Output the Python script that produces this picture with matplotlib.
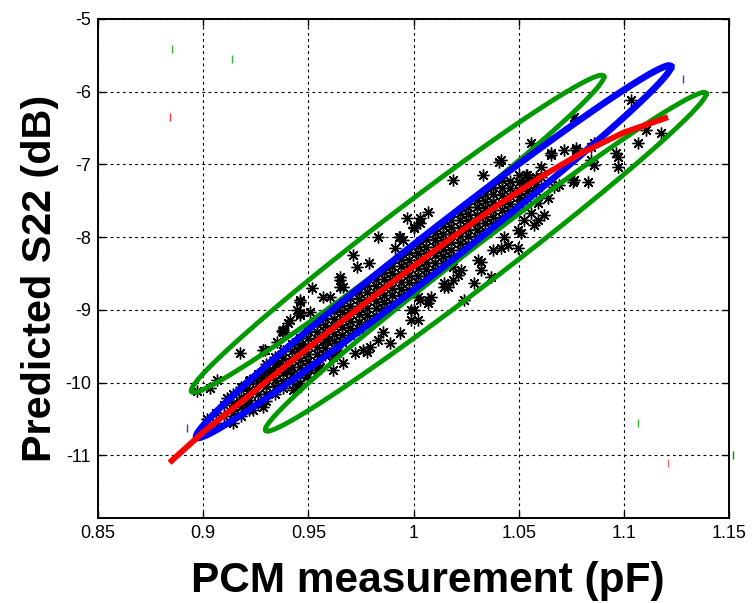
import numpy as np
import matplotlib
matplotlib.use("Agg")
import matplotlib.pyplot as plt
from matplotlib import rcParams

rcParams.update({
    "font.family": ["Liberation Sans", "DejaVu Sans"],
    "axes.unicode_minus": False,
})

# ── data ──────────────────────────────────────────────────
# scattered measurements outside the dense core
out_pcm = [0.9176, 0.9067, 0.9033, 0.8971, 0.9114, 0.9286, 0.9381, 0.9352, 0.9238, 0.9286,
           0.9214, 0.9190, 0.9319, 0.9429, 0.9462, 0.9495, 0.9271, 0.9224, 0.9333, 0.9400,
           0.9462, 0.9295, 0.9376, 0.9405, 0.9462, 0.9462, 0.9448, 0.9510, 0.9448, 0.9543,
           0.9619, 0.9667, 0.9638, 0.9590, 0.9357, 0.9271, 0.9833, 0.9714, 0.9733, 0.9652,
           0.9652, 0.9519, 0.9462, 0.9571, 0.9605, 0.9414, 0.9381, 0.9462, 0.9938, 0.9890,
           0.9829, 0.9795, 0.9724, 0.9781, 0.9986, 1.0000, 1.0033, 0.9938, 1.0000, 0.9786,
           1.0033, 1.0186, 1.0329, 0.9971, 1.0067, 1.0000, 0.9929, 1.0376, 1.0448, 1.0495,
           1.0414, 1.0286, 1.0367, 1.0238, 1.0319, 1.0224, 1.0143, 1.0190, 1.0429, 1.0510,
           1.0571, 1.0524, 1.0557, 1.0590, 1.0571, 0.9652, 0.9667, 1.0019, 1.0067, 0.9986,
           1.0019, 1.0405, 1.0495, 0.9952, 0.9914, 1.0033, 1.0162, 1.0210, 1.0319, 1.0305,
           1.0190, 1.0143, 1.0081, 1.0067, 1.0762, 1.0414, 1.0557, 1.0652, 1.0714, 1.0771,
           1.0843, 1.0857, 1.0762, 1.0829, 1.0638, 1.0690, 1.0619, 1.0590, 1.0510, 1.0524,
           1.0605, 1.0557, 1.0533, 1.0605, 1.0843, 1.1033, 1.1105, 1.1176, 1.1067, 1.0962,
           1.0971, 1.0971, 1.0857, 1.0771, 1.0652, 1.0667, 1.0757, 0.9762, 0.9857, 0.9619,
           0.9557, 0.9510]
out_s22 = [-9.588, -9.959, -10.07, -10.12, -10.21, -9.547, -9.300, -9.437, -10.37, -10.33,
           -10.30, -10.06, -9.860, -10.10, -10.00, -9.920, -9.890, -9.960, -9.820, -9.820,
           -9.505, -9.547, -9.286, -9.176, -9.066, -8.887, -8.997, -9.025, -10.07, -9.820,
           -9.820, -9.725, -9.588, -9.410, -9.750, -10.00, -7.995, -8.242, -8.407, -8.544,
           -8.681, -8.695, -8.860, -8.819, -8.819, -9.135, -9.272, -9.040, -9.313, -9.450,
           -9.410, -9.505, -9.588, -9.574, -9.135, -8.997, -8.860, -7.995, -7.857, -8.350,
           -7.800, -7.212, -7.143, -7.734, -7.651, -7.871, -7.995, -8.173, -8.104, -8.146,
           -8.146, -8.626, -8.544, -8.860, -8.338, -8.448, -8.681, -8.585, -7.995, -7.940,
           -7.830, -7.760, -7.665, -7.527, -7.349, -8.585, -8.680, -8.820, -8.860, -9.000,
           -9.135, -6.964, -7.898, -8.036, -8.146, -7.734, -8.681, -8.516, -8.448, -8.310,
           -8.407, -8.626, -8.820, -8.900, -6.346, -6.937, -6.703, -6.840, -6.800, -6.800,
           -6.758, -7.005, -7.212, -7.239, -7.459, -7.280, -7.690, -7.760, -7.486, -7.253,
           -7.033, -7.212, -7.143, -7.170, -6.937, -6.113, -6.525, -6.566, -6.703, -6.840,
           -6.896, -7.033, -6.703, -6.772, -6.868, -7.308, -7.239, -9.547, -9.300, -9.643,
           -9.780, -9.820]

# dense core of the cloud, column by column
core_cols = [0.902, 0.906, 0.910, 0.914, 0.918, 0.922, 0.926,
             0.930, 0.934, 0.938, 0.942, 0.946, 0.950, 0.954, 0.958, 0.962, 0.966, 0.970,
             0.974, 0.978, 0.982, 0.986, 0.990, 0.994, 0.998, 1.002, 1.006, 1.010, 1.014,
             1.018, 1.022, 1.026, 1.030, 1.034, 1.038, 1.042, 1.046, 1.050, 1.054, 1.058]
core_rows = [
    [-10.62, -10.50], [-10.55, -10.42], [-10.46, -10.30], [-10.55, -10.42, -10.28, -10.15],
    [-10.46, -10.33, -10.19, -10.06], [-10.37, -10.24, -10.10, -9.97], [-10.28, -10.15, -10.01, -9.88],
    [-10.25, -10.15, -10.05, -9.94, -9.84, -9.74], [-10.16, -10.06, -9.96, -9.85, -9.75, -9.65],
    [-10.07, -9.97, -9.87, -9.76, -9.66, -9.56], [-9.98, -9.88, -9.78, -9.67, -9.57, -9.47],
    [-9.89, -9.79, -9.69, -9.58, -9.48, -9.38], [-9.80, -9.70, -9.60, -9.49, -9.39, -9.29],
    [-9.71, -9.61, -9.51, -9.40, -9.30, -9.20], [-9.62, -9.52, -9.42, -9.31, -9.21, -9.11],
    [-9.53, -9.43, -9.33, -9.22, -9.12, -9.02], [-9.44, -9.34, -9.24, -9.13, -9.03, -8.93],
    [-9.35, -9.25, -9.15, -9.04, -8.94, -8.84], [-9.26, -9.16, -9.06, -8.95, -8.85, -8.75],
    [-9.17, -9.07, -8.97, -8.86, -8.76, -8.66], [-9.08, -8.98, -8.88, -8.77, -8.67, -8.57],
    [-8.99, -8.89, -8.79, -8.68, -8.58, -8.48], [-8.90, -8.80, -8.70, -8.59, -8.49, -8.39],
    [-8.81, -8.71, -8.61, -8.50, -8.40, -8.30], [-8.72, -8.62, -8.52, -8.41, -8.31, -8.21],
    [-8.63, -8.53, -8.43, -8.32, -8.22, -8.12], [-8.54, -8.44, -8.34, -8.23, -8.13, -8.03],
    [-8.45, -8.35, -8.25, -8.14, -8.04, -7.94], [-8.36, -8.26, -8.16, -8.05, -7.95, -7.85],
    [-8.27, -8.17, -8.07, -7.96, -7.86, -7.76], [-8.18, -8.08, -7.98, -7.87, -7.77, -7.67],
    [-8.09, -7.99, -7.89, -7.78, -7.68, -7.58], [-8.00, -7.90, -7.80, -7.69, -7.59, -7.49],
    [-7.91, -7.81, -7.71, -7.60, -7.50, -7.40], [-7.82, -7.72, -7.62, -7.51, -7.41, -7.31],
    [-7.73, -7.63, -7.53, -7.42, -7.32, -7.22], [-7.64, -7.54, -7.44, -7.33, -7.23],
    [-7.55, -7.45, -7.35, -7.24, -7.14], [-7.46, -7.36, -7.26, -7.15], [-7.37, -7.27, -7.17],
]

# fitted (red) curve
fit_pcm = [0.884, 0.900, 0.920, 0.940, 0.960, 0.980, 1.000, 1.020, 1.040, 1.060, 1.080, 1.100, 1.121]
fit_s22 = [-11.10, -10.68, -10.22, -9.75, -9.29, -8.84, -8.40, -7.97, -7.56, -7.18, -6.84, -6.56, -6.35]

# ellipses: centre, upper-right tip, vertical half-width at the centre
ell_blue = dict(cx=1.0095, cy=-8.200, tx=1.1224, ty=-5.659, h=0.315)
ell_green_up = dict(cx=0.9924, cy=-7.953, tx=1.0905, ty=-5.796, h=0.323)
ell_green_lo = dict(cx=1.0343, cy=-8.338, tx=1.1391, ty=-6.030, h=0.316)

# stray tick marks in the plot area
tick_x = [0.8852, 0.9138, 0.8843, 0.8924, 1.1281, 1.1067, 1.1210, 1.1519]
tick_y = [-5.41, -5.55, -6.35, -10.62, -5.82, -10.56, -11.11, -10.99]
tick_c = ["#33bb33", "#33bb33", "#ff3333", "#3333ff", "#3333ff", "#33bb33", "#ff6666", "#118811"]

x_ticks = [0.85, 0.9, 0.95, 1.0, 1.05, 1.1, 1.15]
x_ticklabels = ["0.85", "0.9", "0.95", "1", "1.05", "1.1", "1.15"]
y_ticks = [-11, -10, -9, -8, -7, -6, -5]

C_GREEN = "#009a00"
C_BLUE = "#0000ff"
C_RED = "#ff0000"


def ellipse_xy(e):
    t = np.linspace(0, 2 * np.pi, 300)
    x = e["cx"] + (e["tx"] - e["cx"]) * np.cos(t)
    y = e["cy"] + (e["ty"] - e["cy"]) * np.cos(t) + e["h"] * np.sin(t)
    return x, y


fig = plt.figure(figsize=(7.55, 6.03), dpi=100)
ax = fig.add_axes([0.1298, 0.141, 0.8358, 0.8275])

star = (8, 2, 0)
cx, cy = [], []
for xc, row in zip(core_cols, core_rows):
    cx += [xc] * len(row)
    cy += row
ax.plot(cx, cy, linestyle="none", marker=star, ms=8.5,
        mew=1.0, color="black", zorder=2)
ax.plot(out_pcm, out_s22, linestyle="none", marker=star, ms=8.5,
        mew=1.0, color="black", zorder=2)

for e in (ell_green_up, ell_green_lo):
    ax.plot(*ellipse_xy(e), color=C_GREEN, lw=3.5, zorder=3)
ax.plot(*ellipse_xy(ell_blue), color=C_BLUE, lw=4.8, zorder=4)
ax.plot(fit_pcm, fit_s22, color=C_RED, lw=4.2, zorder=5, solid_capstyle="butt")

for x, y, c in zip(tick_x, tick_y, tick_c):
    ax.plot(x, y, marker="|", ms=6, mew=1, color=c, clip_on=False, zorder=6)

ax.set_xlim(0.85, 1.15)
ax.set_ylim(-11.86, -5)
ax.set_xticks(x_ticks)
ax.set_xticklabels(x_ticklabels)
ax.set_yticks(y_ticks)
ax.set_yticklabels([str(v) for v in y_ticks])
ax.tick_params(direction="in", length=5, width=1, top=True, right=True,
               labelsize=13, pad=5)
ax.grid(True, color="black", linestyle=(0, (2.5, 3)), linewidth=0.8)
for s in ax.spines.values():
    s.set_linewidth(1.4)

ax.set_xlabel("PCM measurement (pF)", fontsize=30.5, fontweight="bold")
ax.set_ylabel("Predicted S22 (dB)", fontsize=29.8, fontweight="bold")
ax.xaxis.set_label_coords(0.523, -0.087)
ax.yaxis.set_label_coords(-0.062, 0.481)

fig.savefig("out.png", dpi=100)
